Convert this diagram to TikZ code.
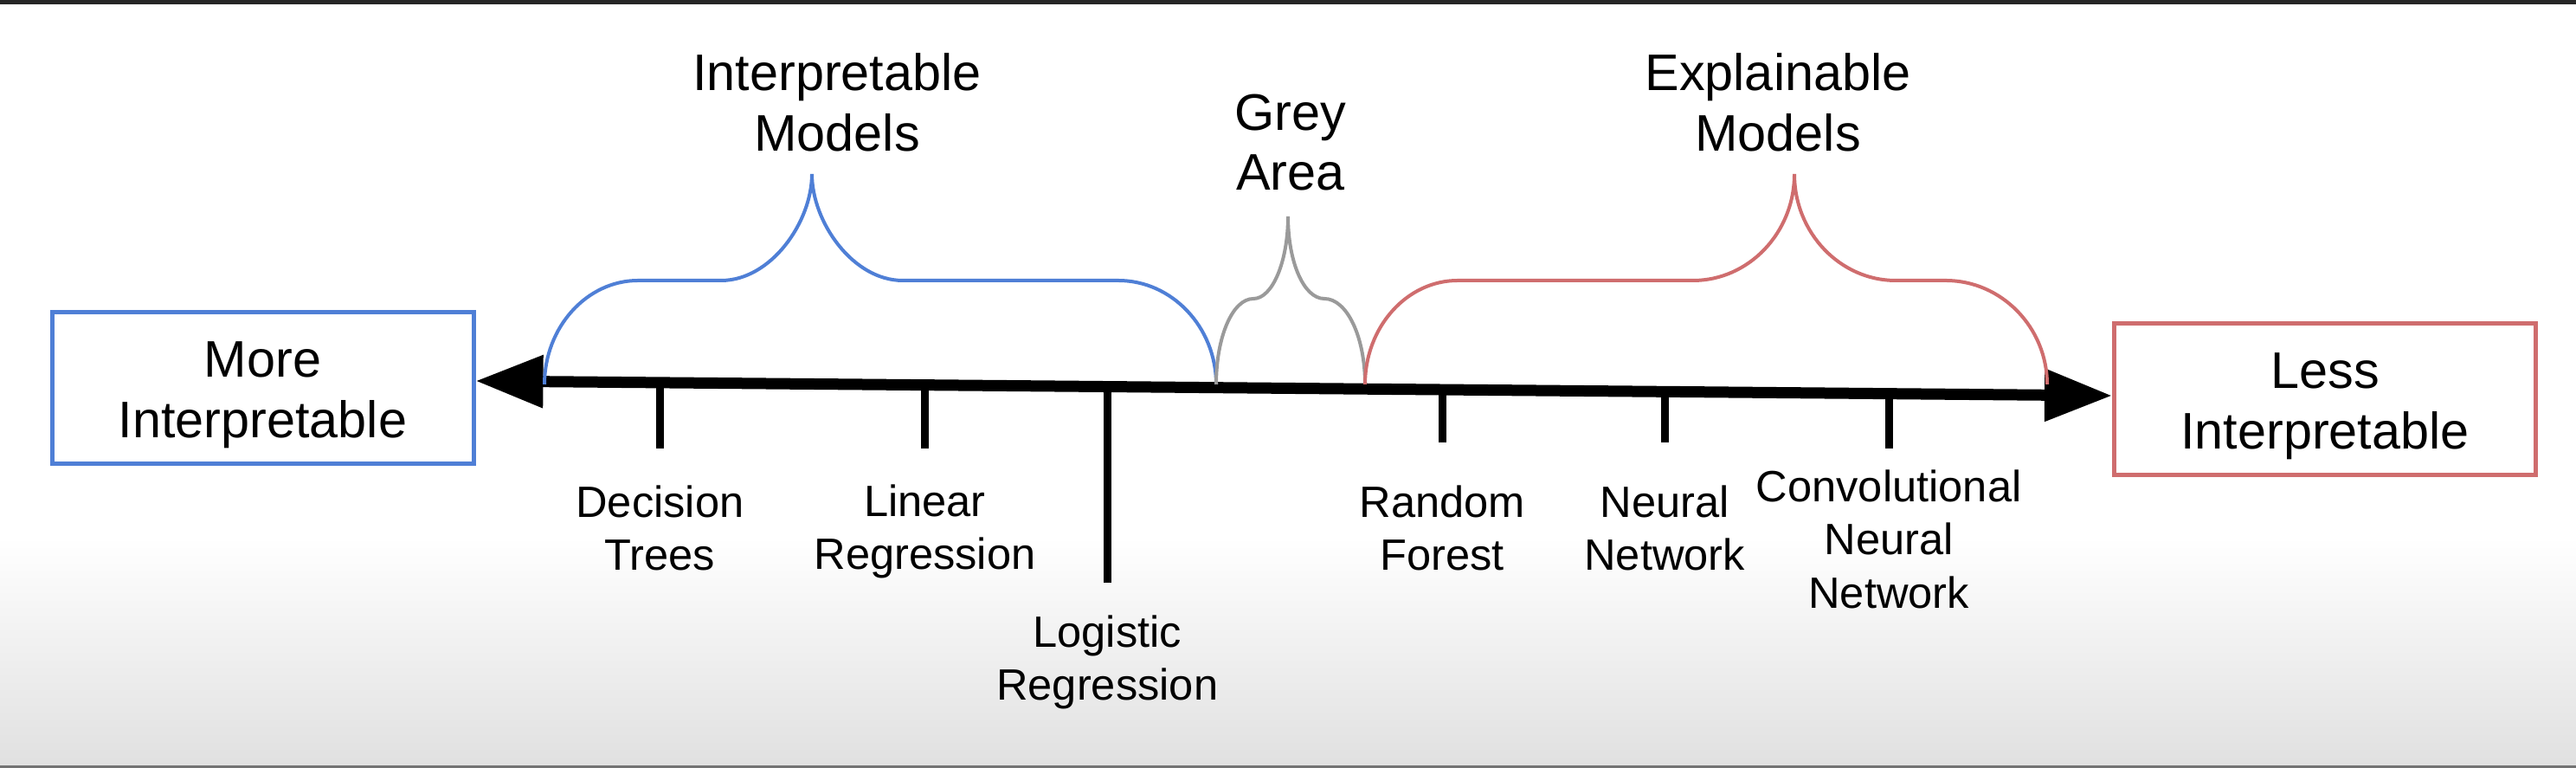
\documentclass[tikz,border=0pt]{standalone}
\usepackage{fontspec}
\setmainfont{Liberation Sans}
\usetikzlibrary{arrows.meta,calc,positioning}
\definecolor{modra}{HTML}{4F7FD6}
\definecolor{cervena}{HTML}{CF6D6E}
\definecolor{seda}{HTML}{9A9A9A}
\begin{document}
\begin{tikzpicture}[
    axis/.style={{Triangle[length=0.78cm,width=0.58cm]}-{Triangle[length=0.78cm,width=0.58cm]}, line width=0.13cm},
    tickline/.style={line width=0.09cm},
    box/.style={draw, line width=0.05cm, minimum width=4.87cm, minimum height=1.75cm, align=center, font=\fontsize{16.9}{19.8}\selectfont},
    heading/.style={align=center, anchor=north, inner sep=0pt, font=\fontsize{16.9}{19.8}\selectfont},
    model/.style={align=center, inner sep=0pt, font=\fontsize{14.4}{17.4}\selectfont},
    brace/.style={line width=0.04cm}
    ]
    % Pozadi
    \fill[white] (0,0) rectangle (29.76,8.87);
    \shade[top color=white, bottom color=black!12] (0,0.03) rectangle (29.76,2.67);
    \fill[black!85] (0,8.82) rectangle (29.76,8.87);
    \fill[black!55] (0,0) rectangle (29.76,0.03);

    % Krajni boxy
    \node[box, draw=modra] (more) at (3.035,4.39) {\rule{0pt}{0.57cm}More\\Interpretable};
    \node[box, draw=cervena] (less) at (26.86,4.26) {\rule{0pt}{0.57cm}Less\\Interpretable};

    % Osa
    \coordinate (axL) at ([yshift=0.08cm]more.east);
    \coordinate (axR) at ([yshift=0.04cm]less.west);
    \draw[axis] (axL) -- (axR);

    % Modely na ose
    \draw[tickline] ($(axL)!0.1126!(axR)$) -- ++(0,-0.76) node[model, below=0.38cm] (dt) {Decision\\Trees};
    \draw[tickline] ($(axL)!0.2745!(axR)$) -- ++(0,-0.73) node[model, below=0.38cm] (linreg) {Linear\\Regression};
    \draw[tickline] ($(axL)!0.3860!(axR)$) -- ++(0,-2.26) node[model, below=0.34cm] (logreg) {Logistic\\Regression};
    \draw[tickline] ($(axL)!0.5907!(axR)$) -- ++(0,-0.61) node[model, below=0.45cm] (rf) {Random\\Forest};
    \draw[tickline] ($(axL)!0.7266!(axR)$) -- ++(0,-0.59) node[model, below=0.45cm] (nn) {Neural\\Network};
    \draw[tickline] ($(axL)!0.8636!(axR)$) -- ++(0,-0.63) node[model, below=0.21cm] (cnn) {Convolutional\\Neural\\Network};

    % Zavorky
    \draw[brace, modra] (6.29,4.43) .. controls (6.29,5.09) and (6.78,5.63) .. (7.37,5.63) -- (8.33,5.63)
        .. controls (8.91,5.63) and (9.38,6.31) .. (9.38,6.86)
        .. controls (9.38,6.31) and (9.85,5.63) .. (10.43,5.63) -- (12.92,5.63)
        .. controls (13.54,5.63) and (14.05,5.09) .. (14.05,4.43);
    \draw[brace, seda] (14.05,4.43) .. controls (14.05,4.98) and (14.24,5.42) .. (14.48,5.42)
        .. controls (14.70,5.42) and (14.88,5.85) .. (14.88,6.37)
        .. controls (14.88,5.85) and (15.06,5.42) .. (15.30,5.42)
        .. controls (15.56,5.42) and (15.77,4.98) .. (15.77,4.43);
    \draw[brace, cervena] (15.77,4.43) .. controls (15.77,5.09) and (16.25,5.63) .. (16.84,5.63) -- (19.56,5.63)
        .. controls (20.20,5.63) and (20.73,6.18) .. (20.73,6.86)
        .. controls (20.73,6.18) and (21.26,5.63) .. (21.90,5.63) -- (22.48,5.63)
        .. controls (23.12,5.63) and (23.65,5.09) .. (23.65,4.43);

    % Popisky skupin
    \node[heading] (interp) at (9.67,8.26) {Interpretable\\Models};
    \node[heading] (grey) at (14.91,7.79) {Grey\\Area};
    \node[heading] (expl) at (20.54,8.26) {Explainable\\Models};

    \end{tikzpicture}
\end{document}
